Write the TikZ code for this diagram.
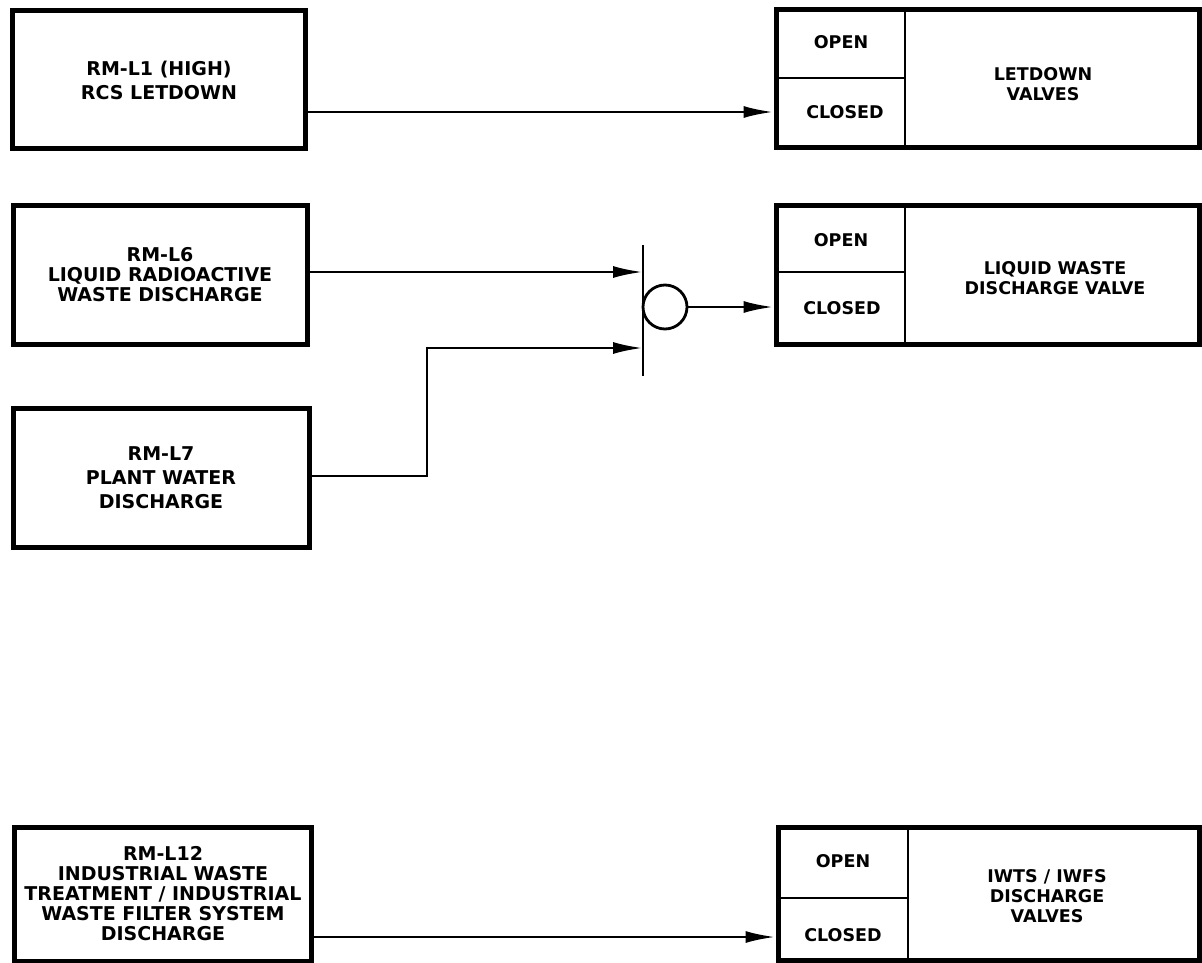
\documentclass[tikz,border=0pt]{standalone}
\usepackage{fontspec}
\setmainfont{DejaVu Sans}
\usetikzlibrary{arrows.meta,calc}
\tikzset{
  srcbox/.style={draw, line width=5pt, inner sep=0pt, align=center,
    font=\fontsize{19}{20}\selectfont\bfseries},
  dstbox/.style={draw, line width=5pt, inner sep=0pt},
  divline/.style={line width=2.2pt},
  lbl/.style={inner sep=0pt, align=center, font=\fontsize{17.5}{20}\selectfont\bfseries},
  conn/.style={line width=2.8pt, -{Latex[length=30pt,width=12pt]}},
  plain/.style={line width=2.8pt}
}
\begin{document}
\begin{tikzpicture}[x=1pt,y=-1pt]
\useasboundingbox (0,0) rectangle (1202,963);
\fill[white] (0,0) rectangle (1202,963);

% source boxes
\node[srcbox, minimum width=293pt, minimum height=138pt,
  font=\fontsize{19}{24}\selectfont\bfseries] (s1) at (159,80)
  {RM-L1 (HIGH)\\RCS LETDOWN};
\node[srcbox, minimum width=294pt, minimum height=139pt] (s2) at (160,275)
  {RM-L6\\LIQUID RADIOACTIVE\\WASTE DISCHARGE};
\node[srcbox, minimum width=296pt, minimum height=139pt,
  font=\fontsize{19}{24}\selectfont\bfseries] (s3) at (161,478)
  {RM-L7\\PLANT WATER\\DISCHARGE};
\node[srcbox, minimum width=297pt, minimum height=134pt] (s4) at (163,894)
  {RM-L12\\INDUSTRIAL WASTE\\TREATMENT / INDUSTRIAL\\WASTE FILTER SYSTEM\\DISCHARGE};

% destination boxes
\node[dstbox, minimum width=423pt, minimum height=138pt] (d1) at (987.5,79) {};
\node[dstbox, minimum width=423pt, minimum height=139pt] (d2) at (987.5,275) {};
\node[dstbox, minimum width=421pt, minimum height=133pt] (d4) at (988.5,893.5) {};

% dividers
\coordinate (v1t) at (905,10);  \coordinate (v1b) at (905,148);
\coordinate (h1l) at (776,78);
\draw[divline] (v1t) -- (v1b);
\draw[divline] (h1l) -- (h1l -| v1t);
\coordinate (v2t) at (905,205); \coordinate (v2b) at (905,345);
\coordinate (h2l) at (776,272);
\draw[divline] (v2t) -- (v2b);
\draw[divline] (h2l) -- (h2l -| v2t);
\coordinate (v4t) at (908,827); \coordinate (v4b) at (908,960);
\coordinate (h4l) at (778,898);
\draw[divline] (v4t) -- (v4b);
\draw[divline] (h4l) -- (h4l -| v4t);

% labels in destination boxes
\node[lbl] (o1) at (841,42) {OPEN};
\node[lbl] (c1) at (845,112) {CLOSED};
\node[lbl] (t1) at (1043,84) {LETDOWN\\VALVES};
\node[lbl] (o2) at (841,240) {OPEN};
\node[lbl] (c2) at (842,308) {CLOSED};
\node[lbl] (t2) at (1055,278) {LIQUID WASTE\\DISCHARGE VALVE};
\node[lbl] (o4) at (843,861) {OPEN};
\node[lbl] (c4) at (843,935) {CLOSED};
\node[lbl] (t4) at (1047,896) {IWTS / IWFS\\DISCHARGE\\VALVES};

% row 1 connector
\coordinate (p1) at (0,112);
\draw[conn] (s1.east |- p1) -- (d1.west |- p1);

% junction
\coordinate (bt) at (643,245);
\coordinate (bb) at (643,376);
\draw[plain] (bt) -- (bb);
\node[draw, line width=2.8pt, circle, minimum size=44pt, inner sep=0pt] (j) at (665,307) {};
\coordinate (p2) at (0,272);
\coordinate (p3) at (0,348);
\coordinate (k3) at (427,476);
\draw[conn] (s2.east |- p2) -- (bt |- p2);
\draw[conn] (s3.east |- k3) -- (k3) -- (k3 |- p3) -- (bt |- p3);
\draw[conn] (j.east) -- (d2.west |- j.east);

% row 4 connector
\coordinate (p4) at (0,937);
\draw[conn] (s4.east |- p4) -- (d4.west |- p4);
\end{tikzpicture}
\end{document}
